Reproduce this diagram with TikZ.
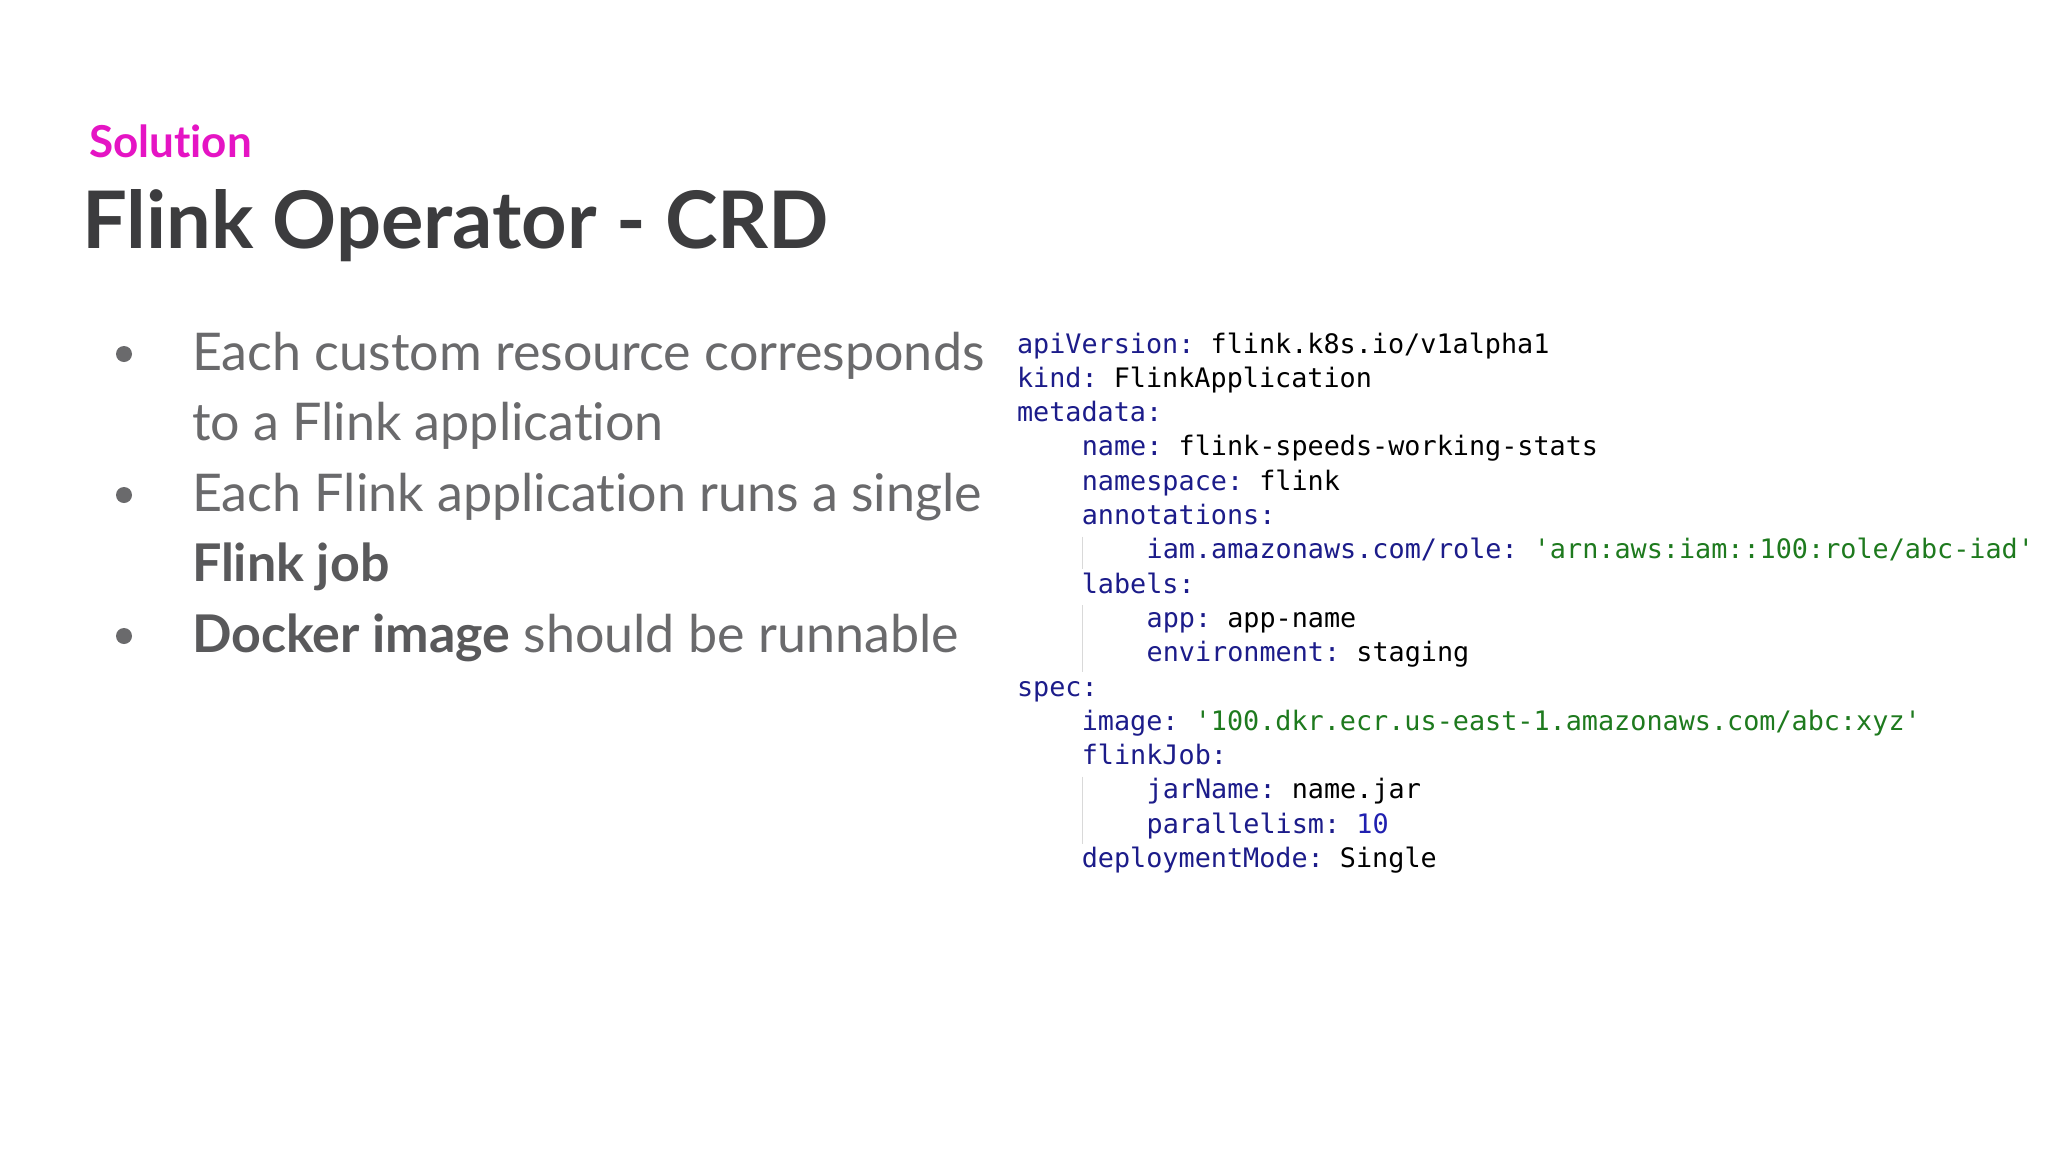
\documentclass[tikz,border=0pt]{standalone}
\usepackage{fontspec}
\setmainfont{Lato}[Ligatures=NoCommon]
\setmonofont{DejaVu Sans Mono}
\definecolor{mag}{HTML}{E514C4}
\definecolor{titlec}{HTML}{3C3C3E}
\definecolor{bodyc}{HTML}{6A6A6C}
\definecolor{keyc}{HTML}{1C1C8A}
\definecolor{strc}{HTML}{1E7A1E}
\definecolor{numc}{HTML}{2020B0}
\tikzset{
  txt/.style={anchor=base west, inner sep=0pt, outer sep=0pt},
  bullet/.style={txt, font=\fontsize{26pt}{30pt}\selectfont, text=bodyc},
  code/.style={txt, font=\fontsize{13.4pt}{16pt}\ttfamily, text=black},
  guide/.style={draw=black!15, line width=0.6pt}
}
\newcommand{\K}[1]{\textcolor{keyc}{#1}}
\newcommand{\Sq}[1]{\textcolor{strc}{#1}}
\begin{document}
\begin{tikzpicture}[x=0.5pt,y=-0.5pt]
\fill[white] (0,0) rectangle (2048,1152);
\useasboundingbox (0,0) rectangle (2048,1152);
\node[txt, font=\fontsize{22pt}{26pt}\selectfont\bfseries, text=mag] (sol) at (89,157) {Solution};
\node[txt, font=\fontsize{39.7pt}{44pt}\selectfont\bfseries, text=titlec] (title) at (82,248) {Flink Operator - CRD};
\foreach \y/\n in {354/d1,495/d2,636/d3}
  \fill[bodyc] (124,\y) circle (8) coordinate (\n);
\node[bullet] (b1) at (192,370) {Each custom resource corresponds};
\node[bullet] (b1b) at (192,440) {to a Flink application};
\node[bullet] (b2) at (192,511) {Each Flink application runs a single};
\node[bullet] (b2b) at (192,581) {\textbf{\textcolor{titlec!85}{Flink job}}};
\node[bullet] (b3) at (192,652) {\textbf{\textcolor{titlec!85}{Docker image}} should be runnable};
\def\cx{1017}
\def\cy{353}
\def\dy{34.3}
\def\ch{16.2}
\newcommand{\CL}[4]{\node[code] (#1) at (\cx+#2*\ch, \cy+#3*\dy) {#4};}
\CL{c0}{0}{0}{\K{apiVersion:} flink.k8s.io/v1alpha1}
\CL{c1}{0}{1}{\K{kind:} FlinkApplication}
\CL{c2}{0}{2}{\K{metadata:}}
\CL{c3}{4}{3}{\K{name:} flink-speeds-working-stats}
\CL{c4}{4}{4}{\K{namespace:} flink}
\CL{c5}{4}{5}{\K{annotations:}}
\CL{c6}{8}{6}{\K{iam.amazonaws.com/role:} \Sq{'arn:aws:iam::100:role/abc-iad'}}
\CL{c7}{4}{7}{\K{labels:}}
\CL{c8}{8}{8}{\K{app:} app-name}
\CL{c9}{8}{9}{\K{environment:} staging}
\CL{c10}{0}{10}{\K{spec:}}
\CL{c11}{4}{11}{\K{image:} \Sq{'100.dkr.ecr.us-east-1.amazonaws.com/abc:xyz'}}
\CL{c12}{4}{12}{\K{flinkJob:}}
\CL{c13}{8}{13}{\K{jarName:} name.jar}
\CL{c14}{8}{14}{\K{parallelism:} \textcolor{numc}{10}}
\CL{c15}{4}{15}{\K{deploymentMode:} Single}
\draw[guide] (\cx+4*\ch+1, \cy+5.35*\dy) -- (\cx+4*\ch+1, \cy+6.3*\dy);
\draw[guide] (\cx+4*\ch+1, \cy+7.35*\dy) -- (\cx+4*\ch+1, \cy+9.3*\dy);
\draw[guide] (\cx+4*\ch+1, \cy+12.35*\dy) -- (\cx+4*\ch+1, \cy+14.3*\dy);
\end{tikzpicture}
\end{document}
